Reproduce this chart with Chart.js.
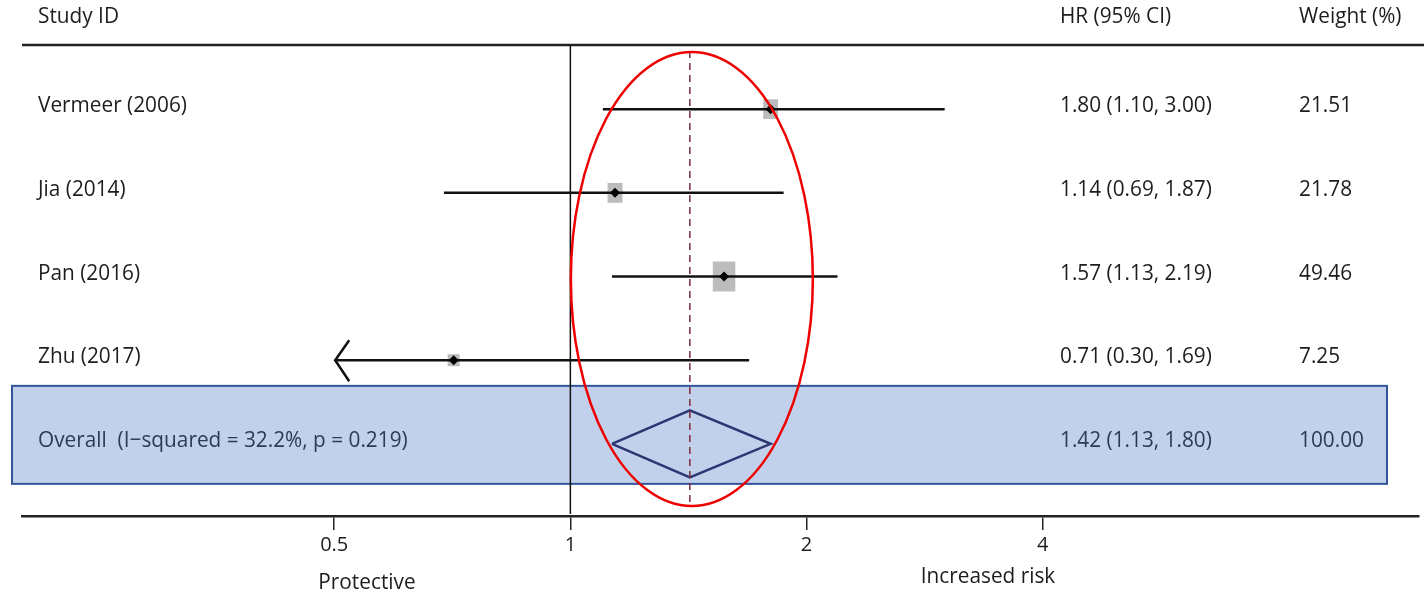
<!DOCTYPE html>
<html>
<head>
<meta charset="utf-8">
<script src="https://cdn.jsdelivr.net/npm/chart.js@4.4.1/dist/chart.umd.min.js"></script>
<style>
  html, body { margin: 0; padding: 0; background: #fff; }
  #wrap { width: 1424px; height: 595px; }
</style>
</head>
<body>
<div id="wrap"><canvas id="forest" width="1424" height="595"></canvas></div>
<script>
// ============================================
// Forest plot — HR (95% CI)
// ============================================

const studies = ['Vermeer (2006)', 'Jia (2014)', 'Pan (2016)', 'Zhu (2017)'];
const hr = [1.80, 1.14, 1.57, 0.71];
const lower = [1.10, 0.69, 1.13, 0.30];
const upper = [3.00, 1.87, 2.19, 1.69];
const weights = [21.51, 21.78, 49.46, 7.25];

const overallLabel = 'Overall  (I\u2212squared = 32.2%, p = 0.219)';
const overallHr = 1.42;
const overallLower = 1.13;
const overallUpper = 1.80;
const overallWeight = 100.00;

const xTicks = [0.5, 1, 2, 4];
const headers = ['Study ID', 'HR (95% CI)', 'Weight (%)'];
const sideLabels = ['Protective', 'Increased risk'];

const FONT = '"Open Sans", "DejaVu Sans", sans-serif';
const TEXT = '#1d1d1d';
const clipMin = xTicks[0];
const overallRow = studies.length + 1;

const fmt = v => v.toFixed(2);

function ciText(h, l, u) {
  return fmt(h) + ' (' + fmt(l) + ', ' + fmt(u) + ')';
}

// text slightly taller than wide, like the original
function drawText(ctx, str, x, y, color, align) {
  ctx.save();
  ctx.translate(x, y);
  ctx.scale(1, 1.06);
  ctx.fillStyle = color || TEXT;
  ctx.font = '20.8px ' + FONT;
  ctx.textAlign = align || 'left';
  ctx.textBaseline = 'middle';
  ctx.fillText(str, 0, 0);
  ctx.restore();
}

const ciDatasets = studies.map((s, i) => ({
  type: 'line',
  label: s,
  data: [{ x: Math.max(lower[i], clipMin), y: i + 1 }, { x: upper[i], y: i + 1 }],
  borderColor: '#111',
  borderWidth: 2.5,
  pointRadius: 0,
  order: 2
}));

const forestPlugin = {
  id: 'forest',
  beforeDatasetsDraw(chart) {
    const { ctx, chartArea, scales: { x, y } } = chart;
    ctx.save();

    // overall box
    const yo = y.getPixelForValue(overallRow);
    ctx.fillStyle = '#c1d1eb';
    ctx.fillRect(12, yo - 58, 1375, 98);
    ctx.strokeStyle = '#34559a';
    ctx.lineWidth = 2;
    ctx.strokeRect(12, yo - 58, 1375, 98);

    // header rule
    ctx.strokeStyle = '#222';
    ctx.lineWidth = 2.5;
    ctx.beginPath();
    ctx.moveTo(chartArea.left, chartArea.top);
    ctx.lineTo(1424, chartArea.top);
    ctx.stroke();

    // null line at HR = 1
    const x1 = x.getPixelForValue(1);
    ctx.lineWidth = 1.5;
    ctx.strokeStyle = '#111';
    ctx.beginPath();
    ctx.moveTo(x1, chartArea.top);
    ctx.lineTo(x1, chartArea.bottom - 2);
    ctx.stroke();

    // headers
    drawText(ctx, headers[0], 38, 17);
    drawText(ctx, headers[1], 1060, 17);
    drawText(ctx, headers[2], 1299, 17);

    // rows
    studies.forEach((s, i) => {
      const py = y.getPixelForValue(i + 1);
      drawText(ctx, s, 38, py - 3);
      drawText(ctx, ciText(hr[i], lower[i], upper[i]), 1060, py - 3);
      drawText(ctx, fmt(weights[i]), 1299, py - 3);

      // weight boxes
      const w = Math.max(12, 3.2 * Math.sqrt(weights[i]));
      const h = Math.max(12, 4.25 * Math.sqrt(weights[i]));
      const px = x.getPixelForValue(hr[i]);
      ctx.fillStyle = '#bcbcbc';
      ctx.fillRect(px - w / 2, py - h / 2, w, h);
    });

    drawText(ctx, overallLabel, 38, yo - 3, '#2e3a55');
    drawText(ctx, ciText(overallHr, overallLower, overallUpper), 1060, yo - 3, '#2e3a55');
    drawText(ctx, fmt(overallWeight), 1299, yo - 3, '#2e3a55');

    ctx.restore();
  },
  afterDatasetsDraw(chart) {
    const { ctx, chartArea, scales: { x, y } } = chart;
    ctx.save();

    // arrows for clipped intervals
    studies.forEach((s, i) => {
      if (lower[i] >= clipMin) return;
      const px = x.getPixelForValue(clipMin);
      const py = y.getPixelForValue(i + 1);
      ctx.strokeStyle = '#111';
      ctx.lineWidth = 2.5;
      ctx.beginPath();
      ctx.moveTo(px + 15, py - 20);
      ctx.lineTo(px + 1, py);
      ctx.lineTo(px + 15, py + 21);
      ctx.stroke();
    });

    // dashed line at pooled estimate
    const xo = x.getPixelForValue(overallHr);
    ctx.strokeStyle = '#7d2b3a';
    ctx.lineWidth = 1.5;
    ctx.setLineDash([7, 5]);
    ctx.beginPath();
    ctx.moveTo(xo, chartArea.top + 6);
    ctx.lineTo(xo, chartArea.bottom - 10);
    ctx.stroke();
    ctx.setLineDash([]);

    // side labels
    drawText(ctx, sideLabels[0], 367, 583, TEXT, 'center');
    drawText(ctx, sideLabels[1], 988, 577, TEXT, 'center');

    // red highlight ellipse
    ctx.strokeStyle = '#ee0000';
    ctx.lineWidth = 2.5;
    ctx.beginPath();
    ctx.ellipse(xo + 2, 279, 121, 227, 0, 0, Math.PI * 2);
    ctx.stroke();

    ctx.restore();
  }
};

new Chart(document.getElementById('forest'), {
  type: 'scatter',
  data: {
    datasets: [
      ...ciDatasets,
      {
        type: 'scatter',
        label: 'HR',
        data: hr.map((v, i) => ({ x: v, y: i + 1 })),
        pointStyle: 'rectRot',
        pointRadius: 5,
        backgroundColor: '#000',
        borderColor: '#000',
        borderWidth: 0,
        order: 1
      },
      {
        type: 'line',
        label: 'Overall',
        data: [
          { x: overallLower, y: overallRow },
          { x: overallHr, y: overallRow - 0.4 },
          { x: overallUpper, y: overallRow },
          { x: overallHr, y: overallRow + 0.4 },
          { x: overallLower, y: overallRow }
        ],
        borderColor: '#2b3672',
        borderWidth: 2.5,
        pointRadius: 0,
        tension: 0,
        order: 3
      }
    ]
  },
  plugins: [forestPlugin],
  options: {
    responsive: false,
    animation: false,
    layout: { padding: { top: 45, bottom: 35, left: 22, right: 0 } },
    plugins: {
      legend: { display: false },
      tooltip: { enabled: false }
    },
    scales: {
      x: {
        type: 'logarithmic',
        position: 'bottom',
        min: 0.2,
        max: 12.07,
        afterBuildTicks: scale => { scale.ticks = xTicks.map(v => ({ value: v })); },
        grid: { drawOnChartArea: false, drawTicks: true, tickLength: 14, color: '#222', lineWidth: 1.5 },
        border: { display: true, color: '#222', width: 2.5 },
        ticks: {
          autoSkip: false,
          maxRotation: 0,
          padding: 3,
          color: TEXT,
          font: { family: FONT, size: 20 },
          callback: v => String(v)
        }
      },
      y: {
        type: 'linear',
        display: false,
        reverse: true,
        min: 0.2335,
        max: 5.862
      }
    }
  }
});
</script>
</body>
</html>
